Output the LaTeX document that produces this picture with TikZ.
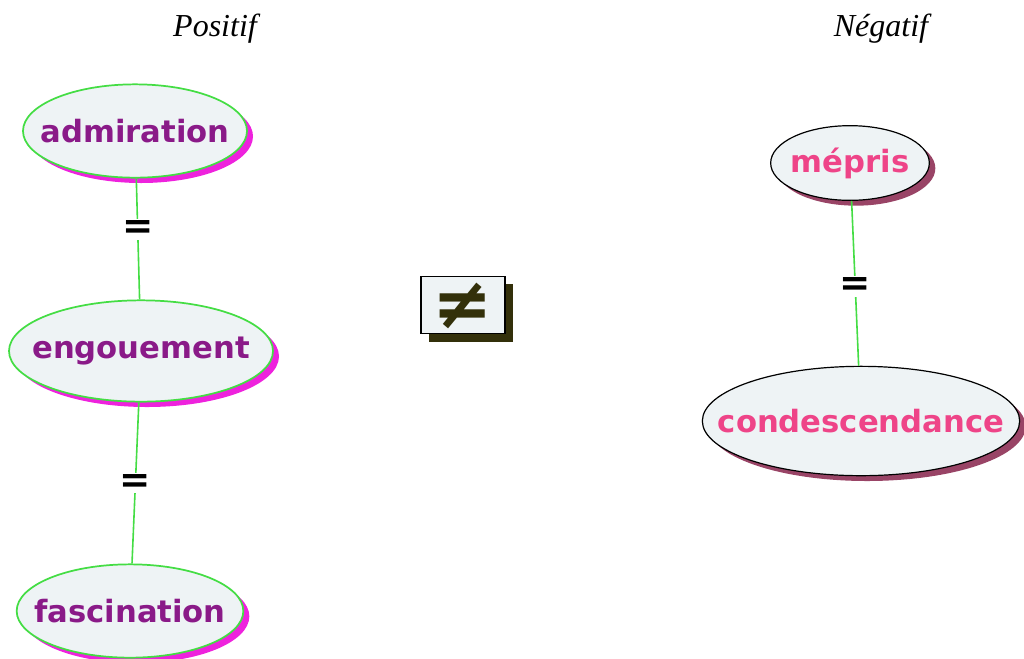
\documentclass[tikz,border=0pt]{standalone}
\usepackage{fontspec}
\setmainfont{Liberation Serif}
\newfontfamily\nodefont{DejaVu Sans}
\usetikzlibrary{shapes.geometric,shadows}
\definecolor{nfill}{HTML}{EEF3F5}
\definecolor{ngreen}{HTML}{44DD44}
\definecolor{nmag}{HTML}{EE22DD}
\definecolor{npurple}{HTML}{8A1A88}
\definecolor{npink}{HTML}{EE4488}
\definecolor{nmaroon}{HTML}{994466}
\definecolor{nolive}{HTML}{33300A}
\newcommand{\nt}[1]{\makebox[0pt]{#1}}
\tikzset{
  x=0.75pt, y=-0.75pt,
  posnode/.style={ellipse, draw=ngreen, line width=1.3pt, fill=nfill, inner sep=0pt,
    font=\nodefont\bfseries\fontsize{23}{26}\selectfont, text=npurple,
    general shadow={shadow xshift=4.5pt, shadow yshift=-4pt, fill=nmag}},
  negnode/.style={ellipse, draw=black, line width=0.9pt, fill=nfill, inner sep=0pt,
    font=\nodefont\bfseries\fontsize{23}{26}\selectfont, text=npink,
    general shadow={shadow xshift=4.5pt, shadow yshift=-4pt, fill=nmaroon}},
  link/.style={draw=ngreen, line width=1.2pt},
  eqlabel/.style={fill=white, inner sep=1pt, font=\nodefont\bfseries\fontsize{28}{28}\selectfont, text=black},
  title/.style={font=\itshape\fontsize{24}{28}\selectfont}
}
\begin{document}
\begin{tikzpicture}
\useasboundingbox (0,0) rectangle (1024,658);
\node[title] (tpos) at (215,29) {Positif};
\node[title] (tneg) at (881,29) {Négatif};

\node[posnode, minimum width=168pt, minimum height=70pt] (adm) at (135,131) {\nt{admiration}};
\node[posnode, minimum width=198pt, minimum height=76pt] (eng) at (141,351) {\nt{engouement}};
\node[posnode, minimum width=170pt, minimum height=70pt] (fas) at (130,611) {\nt{fascination}};

\node[negnode, minimum width=119pt, minimum height=56pt] (mep) at (850,163) {\nt{mépris}};
\node[negnode, minimum width=238pt, minimum height=82pt] (con) at (861,421) {\nt{condescendance}};

\node[draw=black, line width=1pt, fill=nfill, minimum width=63pt, minimum height=43pt, inner sep=0pt,
  general shadow={shadow xshift=6pt, shadow yshift=-6pt, fill=nolive},
  font=\nodefont\bfseries\fontsize{54}{54}\selectfont, text=nolive] (neq) at (463,305) {\nt{\smash{\raisebox{-0.33em}{≠}}}};

\draw[link] (adm) -- node[eqlabel, pos=0.42] {=} (eng);
\draw[link] (eng) -- node[eqlabel] {=} (fas);
\draw[link] (mep) -- node[eqlabel, pos=0.52] {=} (con);
\end{tikzpicture}
\end{document}
